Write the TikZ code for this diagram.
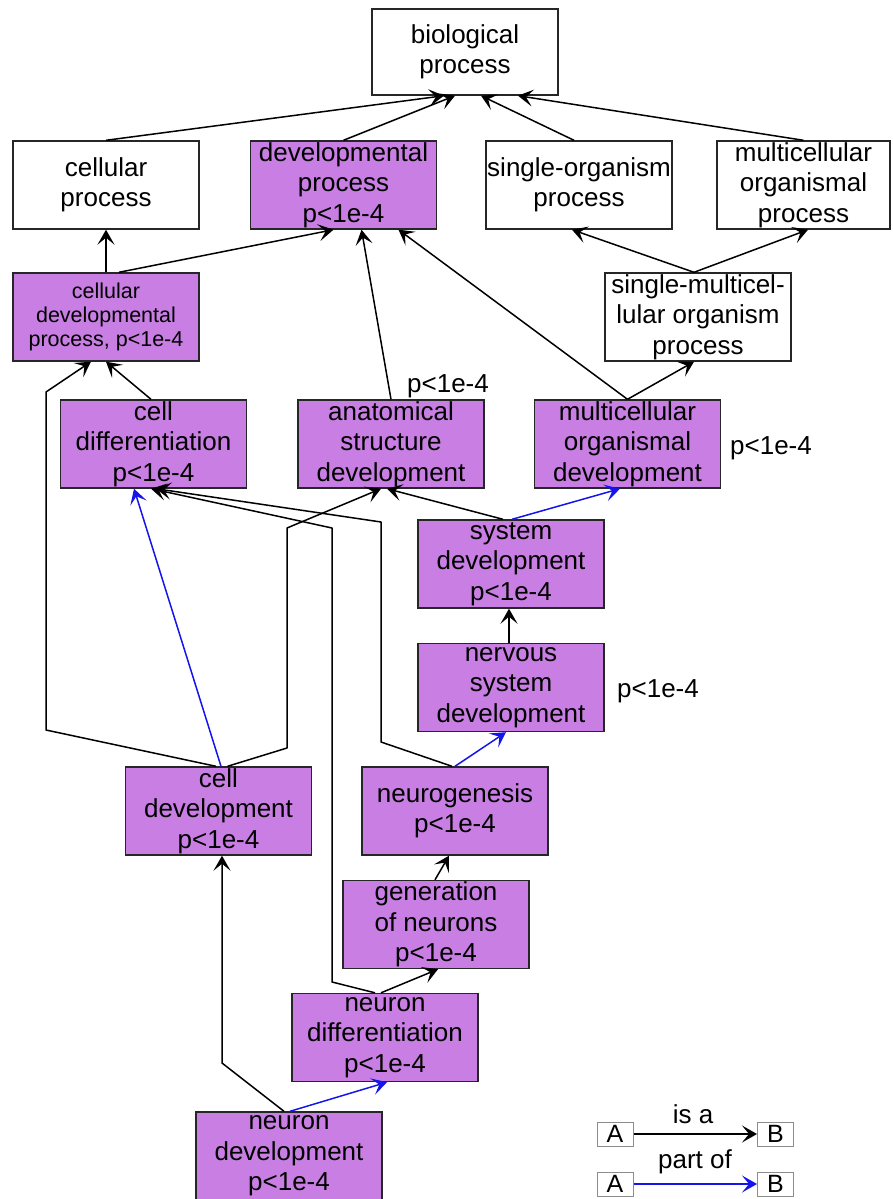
\documentclass[tikz,border=0pt]{standalone}
\usepackage{fontspec}
\setmainfont{Liberation Sans}
\usetikzlibrary{arrows.meta}
\definecolor{sigfill}{RGB}{200,126,226}
\definecolor{partblue}{RGB}{20,20,235}

\begin{document}
\begin{tikzpicture}[x=1pt,y=1pt,
  term/.style={draw=black!85,line width=1.4pt,minimum width=186pt,minimum height=88pt,
    inner sep=0pt,align=center,font=\fontsize{26}{30.5}\selectfont},
  sig/.style={term,fill=sigfill},
  plabel/.style={inner sep=0pt,font=\fontsize{26}{30}\selectfont},
  legbox/.style={draw=black!45,line width=1pt,minimum width=36pt,minimum height=24pt,
    inner sep=0pt,font=\fontsize{25}{26}\selectfont},
  isa/.style={draw=black,line width=1.5pt,line join=round,-{Stealth[length=15pt,width=17pt,inset=7pt]}},
  partof/.style={isa,draw=partblue}]
\useasboundingbox (0,0) rectangle (892,-1199);
% terms, top row:
\node[term,minimum height=86pt] (bio) at (465,-52) {biological\\process};
\node[term] (cellp) at (106,-185) {cellular\\process};
\node[sig] (devp) at (343.5,-185) {developmental\\process\\p<1e-4};
\node[term] (sorgp) at (579,-185) {single-organism\\process};
\node[term,minimum width=173pt] (mcorgp) at (803.5,-185) {multicellular\\organismal\\process};
% terms, lower rows:
\node[sig,font=\fontsize{21.5}{24}\selectfont] (cdevp) at (106,-317) {cellular\\developmental\\process, p<1e-4};
\node[term] (smop) at (698,-317) {single-multicel-\\lular organism\\process};
\node[sig] (celldiff) at (153.5,-444) {cell\\differentiation\\p<1e-4};
\node[sig] (anat) at (391,-444) {anatomical\\structure\\development};
\node[sig] (mcodev) at (627.5,-444) {multicellular\\organismal\\development};
\node[sig] (sysdev) at (511,-564) {system\\development\\p<1e-4};
\node[sig] (nsdev) at (511,-687.5) {nervous\\system\\development};
\node[sig] (celldev) at (218.5,-811) {cell\\development\\p<1e-4};
\node[sig] (neurog) at (455,-811) {neurogenesis\\p<1e-4};
\node[sig] (genneur) at (436,-924.5) {generation\\of neurons\\p<1e-4};
\node[sig] (neurdiff) at (385,-1037.5) {neuron\\differentiation\\p<1e-4};
\node[sig] (neurdev) at (289,-1156) {neuron\\development\\p<1e-4};
% p-values beside boxes:
\node[plabel] (panat) at (448,-386) {p<1e-4};
\node[plabel] (pmcodev) at (771,-448) {p<1e-4};
\node[plabel] (pnsdev) at (658,-691) {p<1e-4};
% is a:
\draw[isa] (cellp.north) -- ([xshift=-21pt]bio.south);
\draw[isa] (devp.north) -- ([xshift=-10pt]bio.south);
\draw[isa] ([xshift=-5pt]sorgp.north) -- ([xshift=16pt]bio.south);
\draw[isa] (mcorgp.north) -- ([xshift=53pt]bio.south);
\draw[isa] (cdevp.north) -- (cellp.south);
\draw[isa] ([xshift=13pt]cdevp.north) -- ([xshift=-10pt]devp.south);
\draw[isa] (anat.north) -- ([xshift=18pt]devp.south);
\draw[isa] (mcodev.north) -- ([xshift=55pt]devp.south);
\draw[isa] (mcodev.north) -- ([xshift=-4pt]smop.south);
\draw[isa] ([xshift=-4pt]smop.north) -- ([xshift=-7pt]sorgp.south);
\draw[isa] ([xshift=-4pt]smop.north) -- ([xshift=4.5pt]mcorgp.south);
\draw[isa] ([xshift=-2.5pt]celldiff.north) -- (cdevp.south);
\draw[isa] ([xshift=-2.5pt]celldev.north) -- (46,-730) -- (46,-392) -- ([xshift=-15pt]cdevp.south);
\draw[isa] ([xshift=9pt]celldev.north) -- (287,-748) -- (287,-528) -- ([xshift=-10pt]anat.south);
\draw[isa] ([xshift=-10pt]neurdiff.north) -- (332,-982) -- (332,-528) -- ([xshift=-2.5pt]celldiff.south);
\draw[isa] ([xshift=-3pt]neurog.north) -- (381,-742) -- (381,-522) -- ([xshift=2.5pt]celldiff.south);
\draw[isa] ([xshift=-2pt]nsdev.north) -- ([xshift=-2pt]sysdev.south);
\draw[isa] ([xshift=-8pt]sysdev.north) -- ([xshift=-4pt]anat.south);
\draw[isa] ([xshift=-1pt]genneur.north) -- ([xshift=-6pt]neurog.south);
\draw[isa] ([xshift=-4pt]neurdiff.north) -- ([xshift=2pt]genneur.south);
\draw[isa] ([xshift=-5pt]neurdev.north) -- (222,-1063) -- ([xshift=3.5pt]celldev.south);
% part of:
\draw[partof] ([xshift=2.5pt]celldev.north) -- ([xshift=-19.5pt]celldiff.south);
\draw[partof] (neurog.north) -- ([xshift=-5pt]nsdev.south);
\draw[partof] ([xshift=1pt]sysdev.north) -- ([xshift=-7.5pt]mcodev.south);
\draw[partof] ([xshift=1pt]neurdev.north) -- ([xshift=2pt]neurdiff.south);
% legend:
\node[legbox] (isaA) at (615,-1134) {A};
\node[legbox] (isaB) at (775.5,-1134) {B};
\node[legbox] (partA) at (615,-1184) {A};
\node[legbox] (partB) at (775.5,-1184) {B};
\draw[isa] (isaA) -- (isaB);
\draw[partof] (partA) -- (partB);
\node[plabel] (isalbl) at (693,-1114) {is a};
\node[plabel] (partlbl) at (695,-1162) {part of};
\end{tikzpicture}
\end{document}
